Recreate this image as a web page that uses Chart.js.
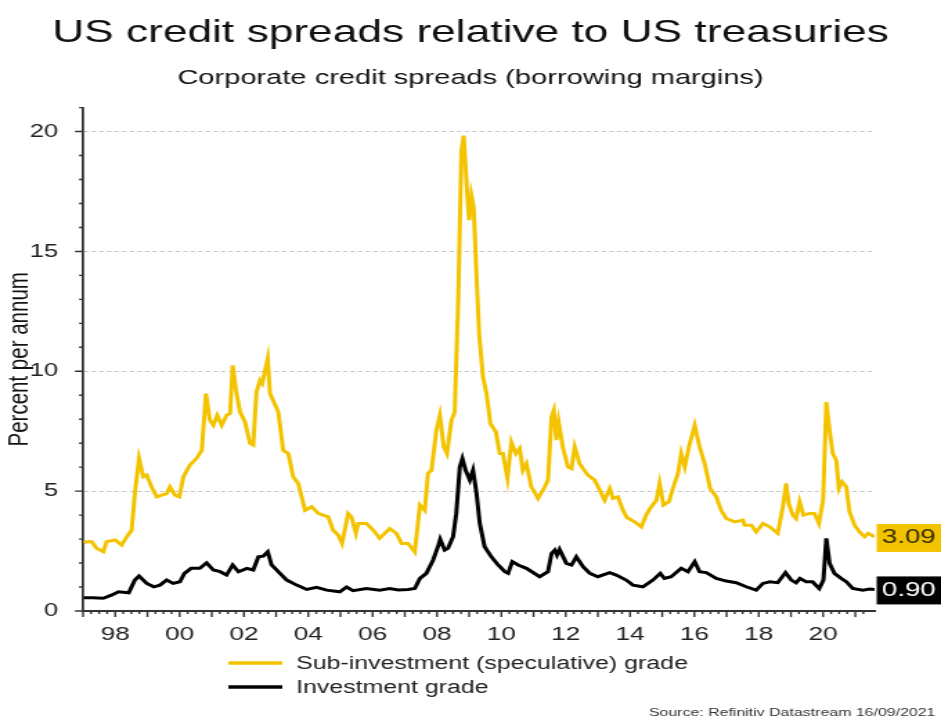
<!DOCTYPE html>
<html lang="en">
<head>
    <meta charset="UTF-8">
    <title>US credit spreads relative to US treasuries</title>
    <style>
        body { margin: 0; background: #fff; }
        /* the source graphic is stretched sideways, so the canvas is drawn narrow and widened */
        #chart { display: block; width: 941px; height: 716px; }
    </style>
</head>
<body>
    <canvas id="chart" width="680" height="716" style="width:941px;height:716px"></canvas>

    <script src="https://cdn.jsdelivr.net/npm/chart.js@4"></script>
    <script>
        // Sub-investment (speculative) grade spread
        const hyYears = [
            1997.02, 1997.15, 1997.27, 1997.42, 1997.63, 1997.73, 1998.0, 1998.2, 1998.36, 1998.51,
            1998.61, 1998.74, 1998.87, 1998.98, 1999.13, 1999.29, 1999.44, 1999.6, 1999.7, 1999.86,
            1999.99, 2000.12, 2000.32, 2000.53, 2000.69, 2000.82, 2000.94, 2001.05, 2001.17, 2001.31,
            2001.46, 2001.57, 2001.65, 2001.77, 2001.88, 2002.03, 2002.19, 2002.29, 2002.39, 2002.5,
            2002.57, 2002.74, 2002.81, 2003.07, 2003.22, 2003.38, 2003.53, 2003.69, 2003.9, 2004.1,
            2004.31, 2004.46, 2004.62, 2004.77, 2004.93, 2005.05, 2005.24, 2005.34, 2005.48, 2005.55,
            2005.81, 2006.02, 2006.22, 2006.53, 2006.74, 2006.9, 2007.1, 2007.31, 2007.47, 2007.62,
            2007.72, 2007.83, 2007.98, 2008.09, 2008.21, 2008.31, 2008.45, 2008.55, 2008.66, 2008.76,
            2008.83, 2008.94, 2009.0, 2009.07, 2009.14, 2009.23, 2009.31, 2009.43, 2009.54, 2009.66,
            2009.83, 2009.95, 2010.05, 2010.19, 2010.31, 2010.45, 2010.57, 2010.67, 2010.78, 2010.93,
            2011.14, 2011.35, 2011.45, 2011.56, 2011.63, 2011.71, 2011.78, 2011.92, 2012.07, 2012.18,
            2012.28, 2012.43, 2012.69, 2012.9, 2013.06, 2013.21, 2013.37, 2013.47, 2013.62, 2013.78,
            2013.9, 2014.14, 2014.35, 2014.5, 2014.66, 2014.82, 2014.92, 2015.04, 2015.21, 2015.33,
            2015.49, 2015.59, 2015.7, 2015.83, 2016.01, 2016.16, 2016.32, 2016.49, 2016.68, 2016.83,
            2016.99, 2017.25, 2017.51, 2017.56, 2017.77, 2017.92, 2018.13, 2018.34, 2018.59, 2018.75,
            2018.85, 2018.93, 2019.06, 2019.16, 2019.27, 2019.39, 2019.58, 2019.73, 2019.87, 2020.0,
            2020.1, 2020.2, 2020.3, 2020.41, 2020.49, 2020.59, 2020.72, 2020.82, 2020.98, 2021.13,
            2021.29, 2021.4, 2021.5, 2021.6
        ];
        const hyValues = [
            2.85, 2.9, 2.89, 2.62, 2.47, 2.89, 2.96, 2.75, 3.1, 3.37,
            4.9, 6.37, 5.6, 5.67, 5.18, 4.76, 4.83, 4.9, 5.18, 4.83,
            4.76, 5.6, 6.08, 6.37, 6.7, 9.07, 7.96, 7.75, 8.17, 7.75,
            8.17, 8.24, 10.25, 9.07, 8.3, 7.9, 6.99, 6.92, 9.14, 9.62,
            9.49, 10.53, 9.07, 8.3, 6.7, 6.57, 5.6, 5.32, 4.2, 4.35,
            4.07, 4.0, 3.93, 3.37, 3.17, 2.82, 4.07, 3.93, 3.24, 3.65,
            3.65, 3.37, 3.03, 3.44, 3.24, 2.82, 2.82, 2.47, 4.42, 4.2,
            5.74, 5.87, 7.54, 8.17, 6.85, 6.57, 7.96, 8.3, 12.96, 19.2,
            19.83, 17.4, 16.3, 17.33, 16.85, 13.93, 11.57, 9.76, 9.07, 7.82,
            7.47, 6.57, 6.57, 5.53, 7.05, 6.57, 6.78, 5.87, 6.15, 5.18,
            4.7, 5.18, 5.46, 8.1, 8.37, 7.13, 7.89, 6.78, 6.01, 5.94,
            6.85, 6.15, 5.67, 5.46, 5.04, 4.62, 5.11, 4.7, 4.76, 4.2,
            3.9, 3.72, 3.51, 4.0, 4.35, 4.62, 5.32, 4.42, 4.56, 5.11,
            5.74, 6.57, 6.01, 6.85, 7.75, 6.85, 6.15, 5.11, 4.76, 4.2,
            3.86, 3.72, 3.79, 3.58, 3.58, 3.3, 3.65, 3.51, 3.24, 4.35,
            5.32, 4.49, 4.0, 3.86, 4.56, 4.0, 4.07, 4.07, 3.65, 4.62,
            8.72, 7.54, 6.57, 6.29, 5.11, 5.39, 5.18, 4.14, 3.58, 3.3,
            3.1, 3.24, 3.17, 3.09
        ];

        // Investment grade spread
        const igYears = [
            1997.02, 1997.3, 1997.63, 1997.9, 1998.1, 1998.42, 1998.61, 1998.74, 1998.98, 1999.2,
            1999.39, 1999.6, 1999.8, 2000.01, 2000.15, 2000.36, 2000.63, 2000.84, 2001.05, 2001.26,
            2001.46, 2001.65, 2001.83, 2002.09, 2002.29, 2002.45, 2002.6, 2002.74, 2002.86, 2003.12,
            2003.33, 2003.64, 2003.95, 2004.26, 2004.57, 2004.98, 2005.19, 2005.39, 2005.81, 2006.22,
            2006.53, 2006.8, 2007.1, 2007.31, 2007.47, 2007.67, 2007.88, 2008.03, 2008.1, 2008.24,
            2008.34, 2008.5, 2008.6, 2008.71, 2008.79, 2008.89, 2009.02, 2009.12, 2009.23, 2009.33,
            2009.48, 2009.69, 2009.9, 2010.11, 2010.21, 2010.34, 2010.52, 2010.78, 2011.19, 2011.45,
            2011.56, 2011.66, 2011.73, 2011.81, 2012.02, 2012.18, 2012.33, 2012.54, 2012.75, 2013.0,
            2013.37, 2013.57, 2013.88, 2014.09, 2014.4, 2014.71, 2014.94, 2015.07, 2015.28, 2015.59,
            2015.8, 2016.01, 2016.16, 2016.37, 2016.68, 2016.99, 2017.3, 2017.61, 2017.92, 2018.13,
            2018.34, 2018.59, 2018.83, 2019.01, 2019.16, 2019.28, 2019.47, 2019.67, 2019.88, 2020.01,
            2020.1, 2020.2, 2020.35, 2020.56, 2020.72, 2020.92, 2021.23, 2021.45, 2021.6
        ];
        const igValues = [
            0.55, 0.55, 0.53, 0.67, 0.8, 0.76, 1.29, 1.46, 1.15, 1.01,
            1.08, 1.29, 1.15, 1.22, 1.57, 1.78, 1.78, 2.01, 1.71, 1.64,
            1.5, 1.92, 1.64, 1.78, 1.71, 2.26, 2.29, 2.47, 1.92, 1.57,
            1.29, 1.08, 0.9, 0.99, 0.87, 0.8, 1.0, 0.85, 0.94, 0.87,
            0.94, 0.88, 0.9, 0.94, 1.36, 1.57, 2.13, 2.68, 2.99, 2.54,
            2.61, 3.1, 4.07, 6.01, 6.36, 5.87, 5.46, 5.87, 4.9, 3.65,
            2.68, 2.26, 1.92, 1.64, 1.57, 2.06, 1.92, 1.78, 1.43, 1.64,
            2.4, 2.54, 2.33, 2.57, 1.99, 1.92, 2.26, 1.85, 1.57, 1.43,
            1.6, 1.5, 1.29, 1.08, 1.01, 1.29, 1.57, 1.36, 1.43, 1.78,
            1.64, 2.06, 1.64, 1.6, 1.36, 1.25, 1.18, 1.01, 0.87, 1.15,
            1.22, 1.18, 1.6, 1.29, 1.18, 1.36, 1.22, 1.22, 0.94, 1.29,
            3.03, 1.99, 1.57, 1.36, 1.22, 0.94, 0.87, 0.92, 0.9
        ];

        const seriesNames = ['Sub-investment (speculative) grade', 'Investment grade'];
        const seriesColors = ['#f3c300', '#000000'];
        const yearTicks = [1998, 2000, 2002, 2004, 2006, 2008, 2010, 2012, 2014, 2016, 2018, 2020];

        const toPoints = (xs, ys) => xs.map((x, i) => ({ x: x, y: ys[i] }));

        const FONT = "'Liberation Sans', Arial, sans-serif";
        Chart.defaults.font.family = FONT;
        Chart.defaults.color = '#222';

        // small outside tick marks, longer ones at labelled values
        const axisTicks = {
            id: 'axisTicks',
            afterDraw(chart) {
                const ctx = chart.ctx;
                const xs = chart.scales.x;
                const ys = chart.scales.y;
                ctx.save();
                ctx.strokeStyle = '#333';
                ctx.lineWidth = 1.4;
                ctx.beginPath();
                ys.ticks.forEach(t => {
                    const py = ys.getPixelForValue(t.value);
                    const len = t.value % 5 === 0 ? 5.8 : 2.9;
                    ctx.moveTo(ys.right - len, py);
                    ctx.lineTo(ys.right, py);
                });
                xs.ticks.forEach(t => {
                    if (Math.abs(t.value * 4 - Math.round(t.value * 4)) > 1e-6) return;
                    const px = xs.getPixelForValue(t.value);
                    const len = Number.isInteger(t.value) ? 6 : 3;
                    ctx.moveTo(px, xs.top);
                    ctx.lineTo(px, xs.top + len);
                });
                ctx.stroke();
                ctx.restore();
            }
        };

        // last-value boxes on the right edge
        const lastValues = {
            id: 'lastValues',
            afterDraw(chart) {
                const ctx = chart.ctx;
                const area = chart.chartArea;
                const ys = chart.scales.y;
                ctx.save();
                ctx.font = '20px ' + FONT;
                ctx.textAlign = 'center';
                ctx.textBaseline = 'middle';
                chart.data.datasets.forEach((ds, i) => {
                    const last = ds.data[ds.data.length - 1].y;
                    const py = ys.getPixelForValue(last);
                    const x0 = area.right + 1.5;
                    ctx.fillStyle = ds.borderColor;
                    ctx.fillRect(x0, py - 13, chart.width - x0, 28);
                    ctx.fillStyle = i === 0 ? '#3a3000' : '#fff';
                    ctx.fillText(last.toFixed(2), (x0 + chart.width) / 2, py + 1);
                });
                ctx.restore();
            }
        };

        // legend below the axis + source note
        const bottomNotes = {
            id: 'bottomNotes',
            afterDraw(chart) {
                const ctx = chart.ctx;
                const base = chart.chartArea.bottom;
                ctx.save();
                ctx.font = '18px ' + FONT;
                ctx.textBaseline = 'middle';
                ctx.textAlign = 'left';
                chart.data.datasets.forEach((ds, i) => {
                    const py = base + 52 + i * 24;
                    ctx.strokeStyle = ds.borderColor;
                    ctx.lineWidth = 3.5;
                    ctx.beginPath();
                    ctx.moveTo(165, py);
                    ctx.lineTo(204, py);
                    ctx.stroke();
                    ctx.fillStyle = '#222';
                    ctx.fillText(ds.label, 214, py + 1);
                });
                ctx.font = '11.5px ' + FONT;
                ctx.textAlign = 'right';
                ctx.fillStyle = '#333';
                ctx.fillText('Source: Refinitiv Datastream 16/09/2021', chart.width - 4, 713);
                ctx.restore();
            }
        };

        new Chart(document.getElementById('chart'), {
            type: 'line',
            data: {
                datasets: [{
                    label: seriesNames[0],
                    data: toPoints(hyYears, hyValues),
                    borderColor: seriesColors[0],
                    borderWidth: 3,
                    pointRadius: 0,
                    tension: 0
                }, {
                    label: seriesNames[1],
                    data: toPoints(igYears, igValues),
                    borderColor: seriesColors[1],
                    borderWidth: 3,
                    pointRadius: 0,
                    tension: 0
                }]
            },
            options: {
                responsive: false,
                animation: false,
                layout: { padding: { left: 0, right: 0, top: 0, bottom: 65 } },
                plugins: {
                    legend: { display: false },
                    tooltip: { enabled: false },
                    title: {
                        display: true,
                        text: 'US credit spreads relative to US treasuries',
                        font: { size: 32, weight: 'normal' },
                        color: '#111',
                        padding: { top: 14, bottom: 0 }
                    },
                    subtitle: {
                        display: true,
                        text: 'Corporate credit spreads (borrowing margins)',
                        font: { size: 21 },
                        color: '#111',
                        padding: { top: 13, bottom: 17 }
                    }
                },
                scales: {
                    x: {
                        type: 'linear',
                        min: 1997,
                        max: 2021.6,
                        ticks: {
                            stepSize: 0.25,
                            autoSkip: false,
                            maxRotation: 0,
                            padding: 6,
                            font: { size: 19 },
                            callback: v => yearTicks.includes(v) ? String(v % 100).padStart(2, '0') : ''
                        },
                        grid: { drawOnChartArea: false, tickColor: 'transparent', tickLength: 6 },
                        border: { color: '#333', width: 2 },
                        afterFit: s => { s.height = 40; }
                    },
                    y: {
                        min: 0,
                        max: 21,
                        title: {
                            display: true,
                            text: 'Percent per annum',
                            font: { size: 20.5 },
                            color: '#111',
                            padding: { top: 2, bottom: 0 }
                        },
                        ticks: {
                            stepSize: 1,
                            autoSkip: false,
                            padding: 12,
                            font: { size: 18.5 },
                            callback: v => v % 5 === 0 ? v : ''
                        },
                        grid: {
                            color: ctx => (ctx.tick && ctx.tick.value > 0 && ctx.tick.value % 5 === 0) ? '#c4c4c4' : 'transparent',
                            tickColor: 'transparent',
                            tickLength: 6
                        },
                        border: { color: '#333', width: 1.8, dash: [3, 2.5] },
                        afterFit: s => { s.width = 60; }
                    },
                    // empty right-hand axis that keeps room for the last-value boxes
                    side: {
                        position: 'right',
                        display: true,
                        ticks: { display: false },
                        grid: { display: false },
                        border: { display: false },
                        afterFit: s => { s.width = 48; }
                    }
                }
            },
            plugins: [axisTicks, lastValues, bottomNotes]
        });
    </script>
</body>
</html>
